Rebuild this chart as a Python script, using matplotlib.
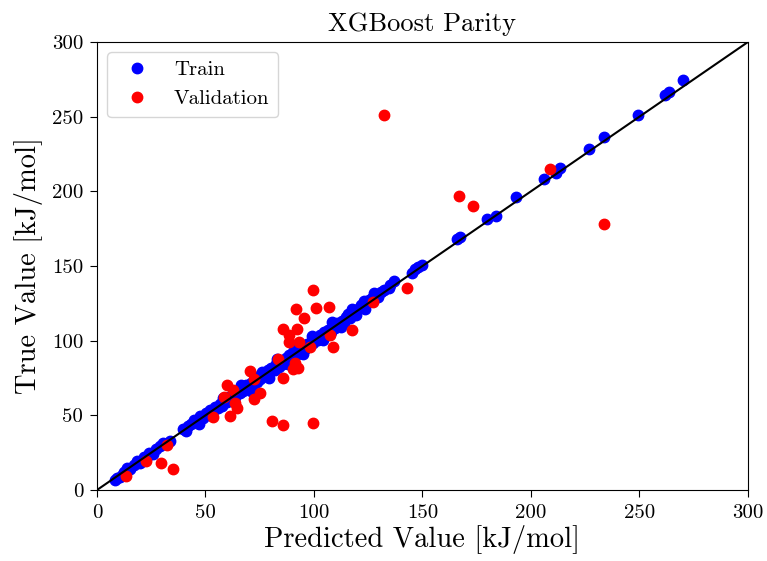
import matplotlib

matplotlib.use("Agg")
import matplotlib.pyplot as plt

# training set: (predicted, true) in kJ/mol
train_pred = [8.2, 9.1, 10.5, 11.8, 12.6, 14.0, 15.3, 17.1, 18.4, 19.7, 21.5, 22.8,
              24.1, 25.6, 27.3, 28.9, 30.2, 31.7, 33.5, 39.6, 40.9, 41.8, 43.2, 44.7,
              45.3, 46.8, 47.5, 48.9, 50.1, 51.4, 52.2, 53.6, 54.5, 55.8, 56.9, 57.7,
              58.6, 59.9, 60.8, 61.5, 62.9, 63.7, 64.6, 65.9, 66.8, 67.4, 68.9, 69.5,
              70.8, 71.6, 72.3, 73.7, 74.8, 75.2, 76.5, 77.3, 78.9, 79.6, 80.4, 81.9,
              82.6, 83.8, 84.7, 85.5, 86.9, 87.6, 88.4, 89.8, 90.5, 91.7, 92.6, 93.9,
              94.5, 95.7, 96.8, 97.4, 98.9, 99.6, 100.5, 101.8, 102.6, 103.7, 104.5,
              105.9, 106.4, 107.8, 108.6, 109.5, 110.7, 111.6, 112.9, 113.8, 114.6,
              115.9, 116.8, 118.3, 120.5, 121.7, 122.9, 124.2, 125.6, 126.9, 128.2,
              129.7, 131.0, 132.1, 134.6, 135.0, 137.0, 145.3, 146.6, 148.1, 149.6,
              166.0, 167.3, 179.7, 183.7, 193.1, 206.1, 211.5, 213.4, 226.6, 233.6,
              249.5, 261.8, 263.6, 270.2,
              47.0, 52.8, 58.1, 63.2, 66.3, 71.2, 75.9, 79.1, 83.1, 88.0, 91.1, 95.1,
              99.1, 104.0, 108.1, 112.3, 117.5, 119.4, 123.5, 127.5]
train_true = [6.5, 7.8, 8.4, 10.9, 12.1, 14.6, 13.8, 16.9, 19.2, 18.1, 21.9, 20.6,
              24.8, 23.9, 27.7, 29.6, 31.4, 30.5, 32.9, 40.8, 39.7, 42.6, 43.9, 47.1,
              45.2, 46.4, 49.3, 48.1, 51.6, 50.2, 53.8, 52.7, 55.9, 54.6, 57.8, 56.3,
              60.4, 58.9, 62.1, 60.7, 63.8, 62.5, 66.2, 64.7, 67.9, 66.1, 70.3, 68.2,
              71.9, 69.8, 73.6, 72.4, 76.1, 74.3, 77.8, 76.2, 80.4, 78.7, 81.8, 80.6,
              84.1, 82.3, 86.2, 84.4, 88.3, 86.1, 90.5, 88.7, 92.1, 90.3, 93.8, 92.2,
              95.9, 94.1, 97.6, 96.5, 99.8, 98.2, 101.7, 100.3, 103.9, 102.6, 105.8,
              104.4, 107.2, 106.1, 109.9, 108.3, 111.8, 110.2, 113.5, 112.1, 115.7,
              117.8, 115.4, 119.6, 121.2, 123.9, 126.3, 124.9, 127.4, 128.8, 130.6,
              129.1, 132.7, 134.0, 135.3, 137.3, 140.2, 145.1, 147.8, 149.6, 150.7,
              167.9, 169.3, 181.7, 183.5, 196.2, 208.1, 212.1, 215.4, 228.4, 236.2,
              251.4, 264.6, 266.8, 274.6,
              44.5, 49.9, 61.5, 59.8, 70.1, 66.4, 79.3, 75.2, 87.6, 84.6, 95.3, 91.4,
              103.0, 100.2, 112.6, 108.9, 121.3, 116.9, 121.0, 132.2]

# validation set
val_pred = [132.4, 208.8, 166.8, 173.3, 233.6, 143.0, 99.7, 91.7, 100.9, 107.0,
            95.5, 85.6, 92.0, 88.6, 88.6, 93.2, 98.2, 107.5, 117.4, 108.9, 127.3,
            83.3, 91.2, 90.2, 92.8, 85.6, 70.5, 72.5, 59.8, 62.8, 58.7, 75.1, 72.5,
            63.6, 64.3, 61.3, 53.3, 80.5, 85.6, 99.7, 32.4, 22.6, 29.3, 34.8, 13.4]
val_true = [251.4, 215.0, 196.9, 190.2, 178.4, 135.1, 134.0, 121.0, 122.1, 122.8,
            115.0, 107.6, 107.6, 103.8, 99.3, 99.3, 96.0, 104.0, 107.4, 95.6, 126.1,
            87.8, 84.8, 80.8, 81.5, 75.3, 80.0, 74.0, 70.2, 67.0, 62.5, 65.2, 60.7,
            58.5, 54.7, 49.8, 48.6, 46.2, 43.5, 45.1, 30.4, 19.5, 18.3, 13.9, 9.5]

plt.rcParams["font.family"] = "cmr10"
plt.rcParams["mathtext.fontset"] = "cm"
plt.rcParams["axes.unicode_minus"] = False

fig, ax = plt.subplots(figsize=(7.67, 5.61), dpi=100)
fig.subplots_adjust(left=0.1265, right=0.975, top=0.925, bottom=0.1266)

ax.plot(train_pred, train_true, "o", color="blue", ms=7.5, label="Train")
ax.plot(val_pred, val_true, "o", color="red", ms=7.5, label="Validation")
ax.plot([0, 300], [0, 300], "k-", lw=1.5)

ax.set_xlim(0, 300)
ax.set_ylim(0, 300)
ax.set_xticks(range(0, 301, 50))
ax.set_yticks(range(0, 301, 50))
ax.tick_params(labelsize=15, length=5, pad=5)
ax.set_xlabel("Predicted Value [kJ/mol]", fontsize=20.5, labelpad=2)
ax.set_ylabel("True Value [kJ/mol]", fontsize=20.5, labelpad=6)
ax.set_title("XGBoost Parity", fontsize=19, pad=8)
ax.legend(loc="upper left", fontsize=15)

fig.savefig("out.png", dpi=100)
